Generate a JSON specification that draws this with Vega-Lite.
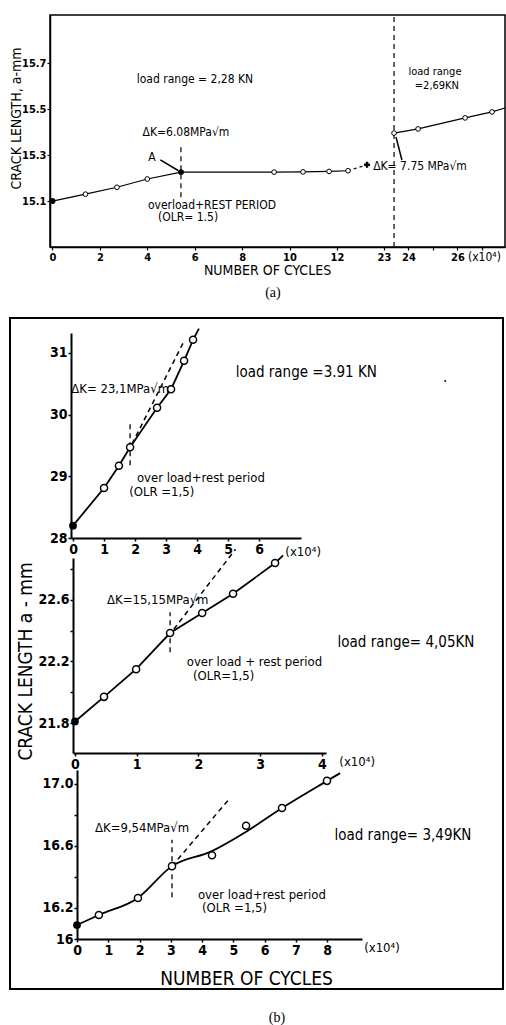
{
"$schema": "https://vega.github.io/schema/vega-lite/v6.json",
"width": 506, "height": 1025, "autosize": {"type": "none"}, "padding": 0, "background": "white",
"config": {
 "view": {"stroke": null},
 "axis": {"grid": false, "domainColor": "black", "tickColor": "black", "labelColor": "black", "titleColor": "black", "labelFont": "DejaVu Sans Condensed", "titleFont": "DejaVu Sans Condensed", "titleFontWeight": "normal", "labelFontWeight": "bold", "tickSize": 3, "labelPadding": 1, "labelOverlap": false, "labelFlush": false},
 "text": {"font": "DejaVu Sans Condensed", "color": "black"}
},
"datasets": {
 "a_lines": [
  {"s":"solid1","x":0,"y":15.10},{"s":"solid1","x":1.39,"y":15.13},{"s":"solid1","x":2.72,"y":15.16},{"s":"solid1","x":4.0,"y":15.196},{"s":"solid1","x":5.42,"y":15.226},{"s":"solid1","x":9.35,"y":15.226},{"s":"solid1","x":10.57,"y":15.227},{"s":"solid1","x":11.67,"y":15.229},{"s":"solid1","x":12.47,"y":15.232},
  {"s":"dash1","x":12.47,"y":15.232},{"s":"dash1","x":13.27,"y":15.258},
  {"s":"solid2","x":23.41,"y":15.396},{"s":"solid2","x":24.39,"y":15.414},{"s":"solid2","x":26.31,"y":15.462},{"s":"solid2","x":27.41,"y":15.488},{"s":"solid2","x":27.94,"y":15.505},
  {"s":"arrowA","x":4.55,"y":15.279},{"s":"arrowA","x":5.3,"y":15.233},
  {"s":"arrowK","x":23.49,"y":15.379},{"s":"arrowK","x":23.73,"y":15.279}
 ],
 "a_pts": [
  {"m":"filled","x":0,"y":15.10},{"m":"open","x":1.39,"y":15.13},{"m":"open","x":2.72,"y":15.16},{"m":"open","x":4.0,"y":15.196},{"m":"filled","x":5.42,"y":15.226},{"m":"open","x":9.35,"y":15.226},{"m":"open","x":10.57,"y":15.227},{"m":"open","x":11.67,"y":15.229},{"m":"open","x":12.47,"y":15.232},{"m":"cross","x":13.27,"y":15.258},{"m":"open","x":23.41,"y":15.396},{"m":"open","x":24.39,"y":15.414},{"m":"open","x":26.31,"y":15.462},{"m":"open","x":27.41,"y":15.488}
 ],
 "a_rules": [{"x":5.42,"y":15.117,"y2":15.35},{"x":23.41,"y":14.9,"y2":15.91}],
 "a_txt": [
  {"label":"load range = 2,28 KN","x":6.01,"y":15.632},{"label":"ΔK=6.08MPa√m","x":5.63,"y":15.40},{"label":"A","x":4.2,"y":15.29},{"label":"overload+REST PERIOD","x":6.73,"y":15.083},{"label":"(OLR= 1.5)","x":5.72,"y":15.03},{"label":"ΔK= 7.75 MPa√m","x":24.47,"y":15.253},{"label":"(x10⁴)","x":27.1,"y":14.856}
 ],
 "a_txt2": [{"label":"load range","x":25.08,"y":15.66},{"label":"=2,69KN","x":25.16,"y":15.602}],
 "a_cap": [{"label":"(a)","x":9.3,"y":14.70}],
 "b1_lines": [
  {"s":"solid","x":0,"y":28.2},{"s":"solid","x":1.0,"y":28.81},{"s":"solid","x":1.48,"y":29.17},{"s":"solid","x":1.84,"y":29.47},{"s":"solid","x":2.71,"y":30.11},{"s":"solid","x":3.16,"y":30.41},{"s":"solid","x":3.58,"y":30.87},{"s":"solid","x":3.87,"y":31.21},{"s":"solid","x":4.06,"y":31.39},
  {"s":"dash","x":1.9,"y":29.52},{"s":"dash","x":3.55,"y":31.16}
 ],
 "b1_pts": [
  {"m":"filled","x":0,"y":28.2},{"m":"open","x":1.0,"y":28.81},{"m":"open","x":1.48,"y":29.17},{"m":"open","x":1.84,"y":29.47},{"m":"open","x":2.71,"y":30.11},{"m":"open","x":3.16,"y":30.41},{"m":"open","x":3.58,"y":30.87},{"m":"open","x":3.87,"y":31.21}
 ],
 "b1_rules": [{"x":1.84,"y":29.18,"y2":29.86}],
 "b1_txt": [
  {"role":"c13","label":"ΔK= 23,1MPa√m","x":1.52,"y":30.41},{"role":"c13","label":"(x10⁴)","x":7.42,"y":27.77},
  {"role":"l13","label":"over load+rest period","x":2.06,"y":28.97},{"role":"l13","label":"(OLR =1,5)","x":1.81,"y":28.75},
  {"role":"c15","label":"load range =3.91 KN","x":7.52,"y":30.69},{"role":"c15","label":".","x":12.0,"y":30.6}
 ],
 "b2_lines": [
  {"s":"solid","x":0,"y":21.81},{"s":"solid","x":0.47,"y":21.97},{"s":"solid","x":0.99,"y":22.15},{"s":"solid","x":1.54,"y":22.385},{"s":"solid","x":2.06,"y":22.515},{"s":"solid","x":2.56,"y":22.64},{"s":"solid","x":3.24,"y":22.84},{"s":"solid","x":3.37,"y":22.89},
  {"s":"dash","x":1.6,"y":22.41},{"s":"dash","x":2.6,"y":22.93}
 ],
 "b2_pts": [
  {"m":"filled","x":0,"y":21.81},{"m":"open","x":0.47,"y":21.97},{"m":"open","x":0.99,"y":22.15},{"m":"open","x":1.54,"y":22.385},{"m":"open","x":2.06,"y":22.515},{"m":"open","x":2.56,"y":22.64},{"m":"open","x":3.24,"y":22.84}
 ],
 "b2_rules": [{"x":1.54,"y":22.26,"y2":22.52}],
 "b2_txt": [
  {"role":"c13","label":"ΔK=15,15MPa√m","x":1.34,"y":22.6},{"role":"c13","label":"(x10⁴)","x":4.57,"y":21.546},
  {"role":"l13","label":"over load + rest period","x":1.81,"y":22.197},{"role":"l13","label":"(OLR=1,5)","x":1.91,"y":22.106},
  {"role":"c15","label":"load range= 4,05KN","x":5.36,"y":22.327}
 ],
 "b3_curve": [
  {"x":0,"y":16.09},{"x":0.7,"y":16.155},{"x":1.95,"y":16.265},{"x":3.04,"y":16.47},{"x":4.3,"y":16.565},{"x":5.4,"y":16.69},{"x":6.56,"y":16.845},{"x":8.0,"y":17.02},{"x":8.42,"y":17.07}
 ],
 "b3_dash": [{"x":3.04,"y":16.47},{"x":4.9,"y":16.91}],
 "b3_pts": [
  {"m":"filled","x":0,"y":16.09},{"m":"open","x":0.7,"y":16.155},{"m":"open","x":1.95,"y":16.265},{"m":"open","x":3.04,"y":16.47},{"m":"open","x":4.32,"y":16.54},{"m":"open","x":5.41,"y":16.73},{"m":"open","x":6.56,"y":16.845},{"m":"open","x":8.0,"y":17.02}
 ],
 "b3_rules": [{"x":3.04,"y":16.27,"y2":16.64}],
 "b3_txt": [
  {"role":"c13","label":"ΔK=9,54MPa√m","x":2.08,"y":16.716},{"role":"c13","label":"(x10⁴)","x":9.76,"y":15.94},
  {"role":"l13","label":"over load+rest period","x":3.87,"y":16.284},{"role":"l13","label":"(OLR =1,5)","x":4.0,"y":16.2},
  {"role":"c15","label":"load range= 3,49KN","x":10.43,"y":16.67}
 ],
 "b3_cap": [{"label":"(b)","x":6.4,"y":15.49}]
},
"resolve": {"scale": {"x": "independent", "y": "independent"}, "axis": {"x": "independent", "y": "independent"}},
"layer": [
 {"layer": [
  {"data": {"name": "a_lines"}, "transform": [{"filter": "datum.s=='solid1'"}], "mark": {"type": "line", "color": "black", "strokeWidth": 1.2},
   "encoding": {
    "x": {"field": "x", "type": "quantitative", "scale": {"domain": [-0.105, 13.48, 22.51, 27.94], "range": [50, 372, 372, 505], "nice": false, "zero": false},
     "axis": {"orient": "bottom", "offset": -778, "values": [0,2,4,6,8,10,12,23,24,25,26,27], "format": "d", "labelExpr": "datum.value==25||datum.value==27?'':datum.label", "title": "NUMBER OF CYCLES", "titleX": 267, "titleY": 23, "titleBaseline": "middle", "titleAlign": "center", "titleFontSize": 14, "labelFontSize": 11, "domainWidth": 1.5, "tickWidth": 1.2}},
    "y": {"field": "y", "type": "quantitative", "scale": {"domain": [14.9, 15.91], "range": [247, 15], "nice": false, "zero": false},
     "axis": {"orient": "left", "offset": -50, "values": [15.1,15.3,15.5,15.7], "format": ".1f", "title": "CRACK LENGTH, a-mm", "titleX": -34, "titleY": 118, "titleAngle": 270, "titleBaseline": "middle", "titleAlign": "center", "titleFontSize": 14, "labelFontSize": 11, "domainWidth": 1.5, "tickWidth": 1.2}}
   }},
  {"data": {"name": "a_lines"}, "transform": [{"filter": "datum.s=='solid2'"}], "mark": {"type": "line", "color": "black", "strokeWidth": 1.2},
   "encoding": {"x": {"field": "x", "type": "quantitative", "scale": {"domain": [-0.105, 13.48, 22.51, 27.94], "range": [50, 372, 372, 505], "nice": false, "zero": false}},
    "y": {"field": "y", "type": "quantitative", "scale": {"domain": [14.9, 15.91], "range": [247, 15], "nice": false, "zero": false}}}},
  {"data": {"name": "a_lines"}, "transform": [{"filter": "datum.s=='dash1'"}], "mark": {"type": "line", "color": "black", "strokeWidth": 1.2, "strokeDash": [3, 3]},
   "encoding": {"x": {"field": "x", "type": "quantitative", "scale": {"domain": [-0.105, 13.48, 22.51, 27.94], "range": [50, 372, 372, 505], "nice": false, "zero": false}},
    "y": {"field": "y", "type": "quantitative", "scale": {"domain": [14.9, 15.91], "range": [247, 15], "nice": false, "zero": false}}}},
  {"data": {"name": "a_lines"}, "transform": [{"filter": "datum.s=='arrowA'||datum.s=='arrowK'"}], "mark": {"type": "line", "color": "black", "strokeWidth": 1.5},
   "encoding": {"x": {"field": "x", "type": "quantitative", "scale": {"domain": [-0.105, 13.48, 22.51, 27.94], "range": [50, 372, 372, 505], "nice": false, "zero": false}},
    "y": {"field": "y", "type": "quantitative", "scale": {"domain": [14.9, 15.91], "range": [247, 15], "nice": false, "zero": false}},
    "detail": {"field": "s"}}},
  {"data": {"name": "a_rules"}, "mark": {"type": "rule", "color": "black", "strokeWidth": 1.2, "strokeDash": [5, 4]},
   "encoding": {"x": {"field": "x", "type": "quantitative", "scale": {"domain": [-0.105, 13.48, 22.51, 27.94], "range": [50, 372, 372, 505], "nice": false, "zero": false}},
    "y": {"field": "y", "type": "quantitative", "scale": {"domain": [14.9, 15.91], "range": [247, 15], "nice": false, "zero": false}},
    "y2": {"field": "y2"}}},
  {"data": {"name": "a_pts"}, "transform": [{"filter": "datum.m=='open'"}], "mark": {"type": "point", "shape": "circle", "fill": "white", "stroke": "black", "strokeWidth": 1, "size": 22, "opacity": 1},
   "encoding": {"x": {"field": "x", "type": "quantitative", "scale": {"domain": [-0.105, 13.48, 22.51, 27.94], "range": [50, 372, 372, 505], "nice": false, "zero": false}},
    "y": {"field": "y", "type": "quantitative", "scale": {"domain": [14.9, 15.91], "range": [247, 15], "nice": false, "zero": false}}}},
  {"data": {"name": "a_pts"}, "transform": [{"filter": "datum.m=='filled'"}], "mark": {"type": "circle", "color": "black", "size": 35, "opacity": 1},
   "encoding": {"x": {"field": "x", "type": "quantitative", "scale": {"domain": [-0.105, 13.48, 22.51, 27.94], "range": [50, 372, 372, 505], "nice": false, "zero": false}},
    "y": {"field": "y", "type": "quantitative", "scale": {"domain": [14.9, 15.91], "range": [247, 15], "nice": false, "zero": false}}}},
  {"data": {"name": "a_pts"}, "transform": [{"filter": "datum.m=='cross'"}], "mark": {"type": "point", "shape": "cross", "filled": true, "color": "black", "size": 35, "opacity": 1},
   "encoding": {"x": {"field": "x", "type": "quantitative", "scale": {"domain": [-0.105, 13.48, 22.51, 27.94], "range": [50, 372, 372, 505], "nice": false, "zero": false}},
    "y": {"field": "y", "type": "quantitative", "scale": {"domain": [14.9, 15.91], "range": [247, 15], "nice": false, "zero": false}}}},
  {"data": {"name": "a_txt"}, "mark": {"type": "text", "fontSize": 12, "align": "center", "baseline": "middle"},
   "encoding": {"x": {"field": "x", "type": "quantitative", "scale": {"domain": [-0.105, 13.48, 22.51, 27.94], "range": [50, 372, 372, 505], "nice": false, "zero": false}},
    "y": {"field": "y", "type": "quantitative", "scale": {"domain": [14.9, 15.91], "range": [247, 15], "nice": false, "zero": false}},
    "text": {"field": "label"}}},
  {"data": {"name": "a_txt2"}, "mark": {"type": "text", "fontSize": 11, "align": "center", "baseline": "middle"},
   "encoding": {"x": {"field": "x", "type": "quantitative", "scale": {"domain": [-0.105, 13.48, 22.51, 27.94], "range": [50, 372, 372, 505], "nice": false, "zero": false}},
    "y": {"field": "y", "type": "quantitative", "scale": {"domain": [14.9, 15.91], "range": [247, 15], "nice": false, "zero": false}},
    "text": {"field": "label"}}},
  {"data": {"name": "a_cap"}, "mark": {"type": "text", "font": "Liberation Serif", "fontSize": 14, "align": "center", "baseline": "middle"},
   "encoding": {"x": {"field": "x", "type": "quantitative", "scale": {"domain": [-0.105, 13.48, 22.51, 27.94], "range": [50, 372, 372, 505], "nice": false, "zero": false}},
    "y": {"field": "y", "type": "quantitative", "scale": {"domain": [14.9, 15.91], "range": [247, 15], "nice": false, "zero": false}},
    "text": {"field": "label"}}},
  {"data": {"values": [{"f": 1}]}, "mark": {"type": "rect", "filled": false, "stroke": "black", "strokeWidth": 1.5},
   "encoding": {"x": {"datum": -0.105, "type": "quantitative", "scale": {"domain": [-0.105, 13.48, 22.51, 27.94], "range": [50, 372, 372, 505], "nice": false, "zero": false}},
    "x2": {"datum": 27.94},
    "y": {"datum": 14.9, "type": "quantitative", "scale": {"domain": [14.9, 15.91], "range": [247, 15], "nice": false, "zero": false}},
    "y2": {"datum": 15.91}}}
 ]},
 {"layer": [
  {"data": {"name": "b1_lines"}, "transform": [{"filter": "datum.s=='solid'"}], "mark": {"type": "line", "color": "black", "strokeWidth": 1.8},
   "encoding": {
    "x": {"field": "x", "type": "quantitative", "scale": {"domain": [-0.065, 7.35], "range": [71, 301], "nice": false, "zero": false},
     "axis": {"orient": "bottom", "offset": -487, "values": [0,1,2,3,4,5,6], "format": "d", "title": null, "labelFontSize": 14, "domainWidth": 2, "tickWidth": 1.5}},
    "y": {"field": "y", "type": "quantitative", "scale": {"domain": [28, 31.32], "range": [538, 333], "nice": false, "zero": false},
     "axis": {"orient": "left", "offset": -71, "values": [28,29,30,31], "format": "d", "title": null, "labelFontSize": 14, "domainWidth": 2, "tickWidth": 1.5}}
   }},
  {"data": {"name": "b1_lines"}, "transform": [{"filter": "datum.s=='dash'"}], "mark": {"type": "line", "color": "black", "strokeWidth": 1.5, "strokeDash": [5, 4]},
   "encoding": {"x": {"field": "x", "type": "quantitative", "scale": {"domain": [-0.065, 7.35], "range": [71, 301], "nice": false, "zero": false}},
    "y": {"field": "y", "type": "quantitative", "scale": {"domain": [28, 31.32], "range": [538, 333], "nice": false, "zero": false}}}},
  {"data": {"name": "b1_rules"}, "mark": {"type": "rule", "color": "black", "strokeWidth": 1.3, "strokeDash": [5, 4]},
   "encoding": {"x": {"field": "x", "type": "quantitative", "scale": {"domain": [-0.065, 7.35], "range": [71, 301], "nice": false, "zero": false}},
    "y": {"field": "y", "type": "quantitative", "scale": {"domain": [28, 31.32], "range": [538, 333], "nice": false, "zero": false}},
    "y2": {"field": "y2"}}},
  {"data": {"name": "b1_pts"}, "transform": [{"filter": "datum.m=='open'"}], "mark": {"type": "point", "shape": "circle", "fill": "white", "stroke": "black", "strokeWidth": 1.5, "size": 50, "opacity": 1},
   "encoding": {"x": {"field": "x", "type": "quantitative", "scale": {"domain": [-0.065, 7.35], "range": [71, 301], "nice": false, "zero": false}},
    "y": {"field": "y", "type": "quantitative", "scale": {"domain": [28, 31.32], "range": [538, 333], "nice": false, "zero": false}}}},
  {"data": {"name": "b1_pts"}, "transform": [{"filter": "datum.m=='filled'"}], "mark": {"type": "circle", "color": "black", "size": 60, "opacity": 1},
   "encoding": {"x": {"field": "x", "type": "quantitative", "scale": {"domain": [-0.065, 7.35], "range": [71, 301], "nice": false, "zero": false}},
    "y": {"field": "y", "type": "quantitative", "scale": {"domain": [28, 31.32], "range": [538, 333], "nice": false, "zero": false}}}},
  {"data": {"name": "b1_txt"}, "transform": [{"filter": "datum.role=='c13'"}], "mark": {"type": "text", "fontSize": 13, "align": "center", "baseline": "middle"},
   "encoding": {"x": {"field": "x", "type": "quantitative", "scale": {"domain": [-0.065, 7.35], "range": [71, 301], "nice": false, "zero": false}},
    "y": {"field": "y", "type": "quantitative", "scale": {"domain": [28, 31.32], "range": [538, 333], "nice": false, "zero": false}},
    "text": {"field": "label"}}},
  {"data": {"name": "b1_txt"}, "transform": [{"filter": "datum.role=='l13'"}], "mark": {"type": "text", "fontSize": 13, "align": "left", "baseline": "middle"},
   "encoding": {"x": {"field": "x", "type": "quantitative", "scale": {"domain": [-0.065, 7.35], "range": [71, 301], "nice": false, "zero": false}},
    "y": {"field": "y", "type": "quantitative", "scale": {"domain": [28, 31.32], "range": [538, 333], "nice": false, "zero": false}},
    "text": {"field": "label"}}},
  {"data": {"name": "b1_txt"}, "transform": [{"filter": "datum.role=='c15'"}], "mark": {"type": "text", "fontSize": 15, "align": "center", "baseline": "middle"},
   "encoding": {"x": {"field": "x", "type": "quantitative", "scale": {"domain": [-0.065, 7.35], "range": [71, 301], "nice": false, "zero": false}},
    "y": {"field": "y", "type": "quantitative", "scale": {"domain": [28, 31.32], "range": [538, 333], "nice": false, "zero": false}},
    "text": {"field": "label"}}}
 ]},
 {"layer": [
  {"data": {"name": "b2_lines"}, "transform": [{"filter": "datum.s=='solid'"}], "mark": {"type": "line", "color": "black", "strokeWidth": 1.8},
   "encoding": {
    "x": {"field": "x", "type": "quantitative", "scale": {"domain": [-0.032, 4.065], "range": [73, 326], "nice": false, "zero": false},
     "axis": {"orient": "bottom", "offset": -272, "values": [0,1,2,3,4], "format": "d", "title": null, "labelFontSize": 14, "domainWidth": 2, "tickWidth": 1.5}},
    "y": {"field": "y", "type": "quantitative", "scale": {"domain": [21.605, 22.873], "range": [753, 558], "nice": false, "zero": false},
     "axis": {"orient": "left", "offset": -73, "values": [21.8,22.0,22.2,22.4,22.6,22.8], "format": ".1f", "labelExpr": "(datum.label=='21.8'||datum.label=='22.2'||datum.label=='22.6')?datum.label:''", "title": "CRACK LENGTH a - mm", "titleX": -48, "titleY": 661, "titleAngle": 270, "titleBaseline": "middle", "titleAlign": "center", "titleFontSize": 19, "labelFontSize": 14, "domainWidth": 2, "tickWidth": 1.5}}
   }},
  {"data": {"name": "b2_lines"}, "transform": [{"filter": "datum.s=='dash'"}], "mark": {"type": "line", "color": "black", "strokeWidth": 1.5, "strokeDash": [5, 4]},
   "encoding": {"x": {"field": "x", "type": "quantitative", "scale": {"domain": [-0.032, 4.065], "range": [73, 326], "nice": false, "zero": false}},
    "y": {"field": "y", "type": "quantitative", "scale": {"domain": [21.605, 22.873], "range": [753, 558], "nice": false, "zero": false}}}},
  {"data": {"name": "b2_rules"}, "mark": {"type": "rule", "color": "black", "strokeWidth": 1.3, "strokeDash": [5, 4]},
   "encoding": {"x": {"field": "x", "type": "quantitative", "scale": {"domain": [-0.032, 4.065], "range": [73, 326], "nice": false, "zero": false}},
    "y": {"field": "y", "type": "quantitative", "scale": {"domain": [21.605, 22.873], "range": [753, 558], "nice": false, "zero": false}},
    "y2": {"field": "y2"}}},
  {"data": {"name": "b2_pts"}, "transform": [{"filter": "datum.m=='open'"}], "mark": {"type": "point", "shape": "circle", "fill": "white", "stroke": "black", "strokeWidth": 1.5, "size": 50, "opacity": 1},
   "encoding": {"x": {"field": "x", "type": "quantitative", "scale": {"domain": [-0.032, 4.065], "range": [73, 326], "nice": false, "zero": false}},
    "y": {"field": "y", "type": "quantitative", "scale": {"domain": [21.605, 22.873], "range": [753, 558], "nice": false, "zero": false}}}},
  {"data": {"name": "b2_pts"}, "transform": [{"filter": "datum.m=='filled'"}], "mark": {"type": "circle", "color": "black", "size": 60, "opacity": 1},
   "encoding": {"x": {"field": "x", "type": "quantitative", "scale": {"domain": [-0.032, 4.065], "range": [73, 326], "nice": false, "zero": false}},
    "y": {"field": "y", "type": "quantitative", "scale": {"domain": [21.605, 22.873], "range": [753, 558], "nice": false, "zero": false}}}},
  {"data": {"name": "b2_txt"}, "transform": [{"filter": "datum.role=='c13'"}], "mark": {"type": "text", "fontSize": 13, "align": "center", "baseline": "middle"},
   "encoding": {"x": {"field": "x", "type": "quantitative", "scale": {"domain": [-0.032, 4.065], "range": [73, 326], "nice": false, "zero": false}},
    "y": {"field": "y", "type": "quantitative", "scale": {"domain": [21.605, 22.873], "range": [753, 558], "nice": false, "zero": false}},
    "text": {"field": "label"}}},
  {"data": {"name": "b2_txt"}, "transform": [{"filter": "datum.role=='l13'"}], "mark": {"type": "text", "fontSize": 13, "align": "left", "baseline": "middle"},
   "encoding": {"x": {"field": "x", "type": "quantitative", "scale": {"domain": [-0.032, 4.065], "range": [73, 326], "nice": false, "zero": false}},
    "y": {"field": "y", "type": "quantitative", "scale": {"domain": [21.605, 22.873], "range": [753, 558], "nice": false, "zero": false}},
    "text": {"field": "label"}}},
  {"data": {"name": "b2_txt"}, "transform": [{"filter": "datum.role=='c15'"}], "mark": {"type": "text", "fontSize": 15, "align": "center", "baseline": "middle"},
   "encoding": {"x": {"field": "x", "type": "quantitative", "scale": {"domain": [-0.032, 4.065], "range": [73, 326], "nice": false, "zero": false}},
    "y": {"field": "y", "type": "quantitative", "scale": {"domain": [21.605, 22.873], "range": [753, 558], "nice": false, "zero": false}},
    "text": {"field": "label"}}}
 ]},
 {"layer": [
  {"data": {"name": "b3_curve"}, "mark": {"type": "line", "color": "black", "strokeWidth": 1.8, "interpolate": "monotone"},
   "encoding": {
    "x": {"field": "x", "type": "quantitative", "scale": {"domain": [0, 9.12], "range": [77, 362], "nice": false, "zero": false},
     "axis": {"orient": "bottom", "offset": -86, "values": [0,1,2,3,4,5,6,7,8], "format": "d", "title": "NUMBER OF CYCLES", "titleX": 246, "titleY": 39, "titleBaseline": "middle", "titleAlign": "center", "titleFontSize": 19, "labelFontSize": 14, "domainWidth": 2, "tickWidth": 1.5}},
    "y": {"field": "y", "type": "quantitative", "scale": {"domain": [16, 17.09], "range": [939, 770], "nice": false, "zero": false},
     "axis": {"orient": "left", "offset": -77, "values": [16,16.2,16.4,16.6,16.8,17.0], "format": ".1f", "labelExpr": "datum.label=='16.0'?'16':((datum.label=='16.4'||datum.label=='16.8')?'':datum.label)", "title": null, "labelFontSize": 14, "domainWidth": 2, "tickWidth": 1.5}}
   }},
  {"data": {"name": "b3_dash"}, "mark": {"type": "line", "color": "black", "strokeWidth": 1.5, "strokeDash": [5, 4]},
   "encoding": {"x": {"field": "x", "type": "quantitative", "scale": {"domain": [0, 9.12], "range": [77, 362], "nice": false, "zero": false}},
    "y": {"field": "y", "type": "quantitative", "scale": {"domain": [16, 17.09], "range": [939, 770], "nice": false, "zero": false}}}},
  {"data": {"name": "b3_rules"}, "mark": {"type": "rule", "color": "black", "strokeWidth": 1.3, "strokeDash": [5, 4]},
   "encoding": {"x": {"field": "x", "type": "quantitative", "scale": {"domain": [0, 9.12], "range": [77, 362], "nice": false, "zero": false}},
    "y": {"field": "y", "type": "quantitative", "scale": {"domain": [16, 17.09], "range": [939, 770], "nice": false, "zero": false}},
    "y2": {"field": "y2"}}},
  {"data": {"name": "b3_pts"}, "transform": [{"filter": "datum.m=='open'"}], "mark": {"type": "point", "shape": "circle", "fill": "white", "stroke": "black", "strokeWidth": 1.5, "size": 50, "opacity": 1},
   "encoding": {"x": {"field": "x", "type": "quantitative", "scale": {"domain": [0, 9.12], "range": [77, 362], "nice": false, "zero": false}},
    "y": {"field": "y", "type": "quantitative", "scale": {"domain": [16, 17.09], "range": [939, 770], "nice": false, "zero": false}}}},
  {"data": {"name": "b3_pts"}, "transform": [{"filter": "datum.m=='filled'"}], "mark": {"type": "circle", "color": "black", "size": 60, "opacity": 1},
   "encoding": {"x": {"field": "x", "type": "quantitative", "scale": {"domain": [0, 9.12], "range": [77, 362], "nice": false, "zero": false}},
    "y": {"field": "y", "type": "quantitative", "scale": {"domain": [16, 17.09], "range": [939, 770], "nice": false, "zero": false}}}},
  {"data": {"name": "b3_txt"}, "transform": [{"filter": "datum.role=='c13'"}], "mark": {"type": "text", "fontSize": 13, "align": "center", "baseline": "middle"},
   "encoding": {"x": {"field": "x", "type": "quantitative", "scale": {"domain": [0, 9.12], "range": [77, 362], "nice": false, "zero": false}},
    "y": {"field": "y", "type": "quantitative", "scale": {"domain": [16, 17.09], "range": [939, 770], "nice": false, "zero": false}},
    "text": {"field": "label"}}},
  {"data": {"name": "b3_txt"}, "transform": [{"filter": "datum.role=='l13'"}], "mark": {"type": "text", "fontSize": 13, "align": "left", "baseline": "middle"},
   "encoding": {"x": {"field": "x", "type": "quantitative", "scale": {"domain": [0, 9.12], "range": [77, 362], "nice": false, "zero": false}},
    "y": {"field": "y", "type": "quantitative", "scale": {"domain": [16, 17.09], "range": [939, 770], "nice": false, "zero": false}},
    "text": {"field": "label"}}},
  {"data": {"name": "b3_txt"}, "transform": [{"filter": "datum.role=='c15'"}], "mark": {"type": "text", "fontSize": 15, "align": "center", "baseline": "middle"},
   "encoding": {"x": {"field": "x", "type": "quantitative", "scale": {"domain": [0, 9.12], "range": [77, 362], "nice": false, "zero": false}},
    "y": {"field": "y", "type": "quantitative", "scale": {"domain": [16, 17.09], "range": [939, 770], "nice": false, "zero": false}},
    "text": {"field": "label"}}},
  {"data": {"name": "b3_cap"}, "mark": {"type": "text", "font": "Liberation Serif", "fontSize": 14, "align": "center", "baseline": "middle"},
   "encoding": {"x": {"field": "x", "type": "quantitative", "scale": {"domain": [0, 9.12], "range": [77, 362], "nice": false, "zero": false}},
    "y": {"field": "y", "type": "quantitative", "scale": {"domain": [16, 17.09], "range": [939, 770], "nice": false, "zero": false}},
    "text": {"field": "label"}}}
 ]},
 {"data": {"values": [{"f": 1}]}, "mark": {"type": "rect", "filled": false, "stroke": "black", "strokeWidth": 2},
  "encoding": {"x": {"datum": 0, "type": "quantitative", "scale": {"domain": [0, 1], "range": [10, 503], "nice": false, "zero": false}, "axis": null},
   "x2": {"datum": 1},
   "y": {"datum": 0, "type": "quantitative", "scale": {"domain": [0, 1], "range": [989, 318], "nice": false, "zero": false}, "axis": null},
   "y2": {"datum": 1}}}
]
}
